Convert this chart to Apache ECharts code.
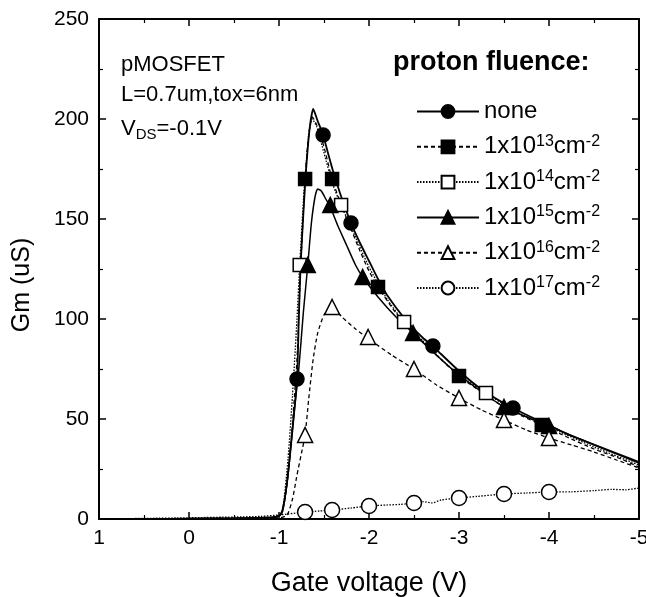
<!DOCTYPE html>
<html>
<head>
<meta charset="utf-8">
<script src="https://cdn.jsdelivr.net/npm/echarts@6/dist/echarts.min.js"></script>
<style>html,body{margin:0;padding:0;background:#fff;}#c{width:646px;height:597px;}</style>
</head>
<body>
<div id="c"></div>
<script>
// ---- data ----
var seriesNames = ['none', '1x10^13cm^-2', '1x10^14cm^-2', '1x10^15cm^-2', '1x10^16cm^-2', '1x10^17cm^-2'];
var xTicks = [1, 0, -1, -2, -3, -4, -5];
var yTicks = [0, 50, 100, 150, 200, 250];

var curveNone = [[1,0],[0.5,0],[0,0.2],[-0.5,0.4],[-0.9,0.8],[-1.0,1.5],[-1.03,3],[-1.08,15],[-1.14,40],[-1.2,70],[-1.22,100],[-1.24,127],[-1.27,152],[-1.3,174],[-1.34,195],[-1.38,205],[-1.43,199],[-1.49,192],[-1.55,182],[-1.6,174],[-1.7,160],[-1.8,148],[-1.9,138],[-2.0,129],[-2.1,120],[-2.2,112],[-2.4,100],[-2.6,90.5],[-2.71,86.5],[-2.8,82.5],[-3.0,74],[-3.2,66.5],[-3.4,60.5],[-3.6,55.5],[-3.8,51],[-4.0,47],[-4.2,42.5],[-4.4,39],[-4.6,35.5],[-4.8,32],[-5.0,28.5]];
var curve13 = [[1,0],[0,0.2],[-0.9,0.6],[-1.0,1.5],[-1.05,6],[-1.1,22],[-1.15,48],[-1.2,80],[-1.24,125],[-1.29,170],[-1.33,192],[-1.37,201],[-1.42,197],[-1.5,186],[-1.59,170],[-1.7,156],[-1.8,145],[-1.9,134],[-2.0,124],[-2.1,116],[-2.3,103],[-2.5,93],[-2.7,84],[-3.0,71.5],[-3.2,65],[-3.5,56],[-3.7,51.5],[-3.92,47],[-4.2,41],[-4.5,35],[-4.8,30],[-5.0,26]];
var curve14 = [[1,0],[0,0.2],[-0.9,0.6],[-1.0,1.5],[-1.04,4],[-1.1,30],[-1.15,62],[-1.2,100],[-1.23,127],[-1.28,165],[-1.33,192],[-1.37,200],[-1.42,196],[-1.5,183],[-1.6,167],[-1.69,157],[-1.8,146],[-2.0,126],[-2.2,110],[-2.39,98.5],[-2.6,89],[-2.8,80],[-3.0,72],[-3.3,63],[-3.6,54.5],[-4.0,46],[-4.5,36],[-5.0,27]];
var curve15 = [[1,0],[0,0.2],[-0.9,0.5],[-1.0,1.5],[-1.04,4],[-1.1,22],[-1.16,50],[-1.22,75],[-1.27,103],[-1.32,127],[-1.36,148],[-1.4,161],[-1.43,165],[-1.47,164],[-1.52,160],[-1.57,156],[-1.65,147],[-1.75,137],[-1.85,127],[-1.93,121],[-2.1,111],[-2.3,101],[-2.49,93],[-2.7,84],[-3.0,72],[-3.5,56],[-4.0,46.5],[-4.5,37],[-5.0,28]];
var curve16 = [[1,0],[0,0.2],[-1.0,0.5],[-1.09,2],[-1.15,10],[-1.2,22],[-1.25,33],[-1.29,42],[-1.33,60],[-1.38,80],[-1.43,93],[-1.5,102],[-1.59,106],[-1.7,101],[-1.85,95],[-2.0,90],[-2.25,82],[-2.5,75],[-2.75,67],[-3.0,60.5],[-3.25,54.5],[-3.5,49.5],[-3.75,44.5],[-4.0,40.5],[-4.25,37],[-4.5,33.5],[-4.75,29.5],[-5.0,25.5]];
var curve17 = [[1,0],[0.5,0.3],[0,0.6],[-0.5,1],[-0.8,1.3],[-1.0,2],[-1.1,2.5],[-1.29,3.5],[-1.45,4],[-1.59,4.5],[-1.8,5.5],[-2.0,6.5],[-2.2,7],[-2.35,7.3],[-2.5,8],[-2.6,8.7],[-2.7,8],[-2.8,9.5],[-3.0,10.5],[-3.2,11.3],[-3.5,12.5],[-3.75,13],[-4.0,13.5],[-4.25,13.6],[-4.5,14.2],[-4.7,14.8],[-4.85,14.6],[-5.0,15.5]];

var marksNone = [[-1.2,70],[-1.49,192],[-1.8,148],[-2.71,86.5],[-3.6,55.5]];
var marks13 = [[-1.29,170],[-1.59,170],[-2.1,116],[-3.0,71.5],[-3.92,47]];
var marks14 = [[-1.23,127],[-1.69,157],[-2.39,98.5],[-3.3,63]];
var marks15 = [[-1.32,127],[-1.57,157],[-1.93,121],[-2.49,93],[-3.5,56],[-4.0,46.5]];
var marks16 = [[-1.29,42],[-1.59,106],[-1.99,91],[-2.5,75],[-3.0,60.5],[-3.5,49.5],[-4.0,40.5]];
var marks17 = [[-1.29,3.5],[-1.59,4.5],[-2.0,6.5],[-2.5,8],[-3.0,10.5],[-3.5,12.5],[-4.0,13.5]];

// ---- chart ----
var FONT = '"Liberation Sans", Arial, Helvetica, sans-serif';
var curves = [curveNone, curve13, curve14, curve15, curve16, curve17];
var marks = [marksNone, marks13, marks14, marks15, marks16, marks17];
var styles = [
  {symbol:'circle', fill:'#000', size:14, line:'solid', width:1.8},
  {symbol:'rect', fill:'#000', size:13, line:[4,3], width:1.3},
  {symbol:'rect', fill:'#fff', size:13, line:[1.5,1.5], width:1.3},
  {symbol:'triangle', fill:'#000', size:15, line:'solid', width:1.5},
  {symbol:'triangle', fill:'#fff', size:15, line:[4,3], width:1.3},
  {symbol:'circle', fill:'#fff', size:15, line:[1.5,1.5], width:1.3}
];

var series = [];
seriesNames.forEach(function (name, i) {
  var st = styles[i];
  series.push({
    name: name, type: 'line', data: curves[i], showSymbol: false,
    symbol: st.symbol, symbolSize: st.size, smooth: 0.2,
    lineStyle: {color: '#000', width: st.width, type: st.line},
    itemStyle: {color: st.fill, borderColor: '#000', borderWidth: 1.5},
    emphasis: {disabled: true}, silent: true, z: 2
  });
});
seriesNames.forEach(function (name, i) {
  var st = styles[i];
  series.push({
    name: name, type: 'scatter', data: marks[i],
    symbol: st.symbol, symbolSize: st.size,
    itemStyle: {color: st.fill, borderColor: '#000', borderWidth: 1.5, opacity: 1},
    emphasis: {disabled: true}, silent: true, z: 3
  });
});

function axisCommon() {
  return {
    axisLine: {onZero: false, lineStyle: {color: '#000', width: 2}},
    axisTick: {inside: true, length: 7, lineStyle: {color: '#000', width: 1.5}},
    minorTick: {show: true, splitNumber: 2, length: 4, lineStyle: {color: '#000', width: 1.2}},
    splitLine: {show: false}
  };
}

var xBottom = Object.assign(axisCommon(), {
  type: 'value', min: xTicks[xTicks.length - 1], max: xTicks[0], interval: 1, inverse: true, position: 'bottom',
  axisLabel: {fontSize: 21, color: '#000', margin: 9, fontFamily: FONT, showMinLabel: true, showMaxLabel: true},
  name: 'Gate voltage (V)', nameLocation: 'middle', nameGap: 51,
  nameTextStyle: {fontSize: 27, color: '#000', fontFamily: FONT}
});
var xTop = Object.assign(axisCommon(), {
  type: 'value', min: xTicks[xTicks.length - 1], max: xTicks[0], interval: 1, inverse: true, position: 'top',
  axisLabel: {show: false}
});
var yLeft = Object.assign(axisCommon(), {
  type: 'value', min: yTicks[0], max: yTicks[yTicks.length - 1], interval: 50, position: 'left',
  axisLabel: {fontSize: 21, color: '#000', margin: 10, fontFamily: FONT, showMinLabel: true, showMaxLabel: true},
  name: 'Gm (uS)', nameLocation: 'middle', nameGap: 64,
  nameTextStyle: {fontSize: 25, color: '#000', fontFamily: FONT, padding: [0, 32, 0, 0]}
});
var yRight = Object.assign(axisCommon(), {
  type: 'value', min: yTicks[0], max: yTicks[yTicks.length - 1], interval: 50, position: 'right',
  axisLabel: {show: false}
});

function legendFmt(name) {
  return name.replace(/\^(-?\d+)/g, '{s|$1}');
}

var option = {
  animation: false,
  backgroundColor: '#fff',
  grid: {left: 99, right: 7, top: 19, bottom: 78, containLabel: false, outerBoundsMode: 'none'},
  xAxis: [xBottom, xTop],
  yAxis: [yLeft, yRight],
  legend: {
    data: seriesNames, orient: 'vertical', left: 416, top: 98, padding: 0,
    itemWidth: 62, itemHeight: 16, itemGap: 8.3, selectedMode: false,
    formatter: legendFmt,
    textStyle: {fontSize: 24, color: '#000', fontFamily: FONT, lineHeight: 27,
      rich: {s: {fontSize: 16, lineHeight: 14, verticalAlign: 'top', color: '#000', fontFamily: FONT}}}
  },
  graphic: [
    {type: 'text', x: 393, y: 63, silent: true,
      style: {text: 'proton fluence:', font: 'bold 27px ' + FONT, fill: '#000', textVerticalAlign: 'middle'}},
    {type: 'text', x: 121, y: 65, silent: true,
      style: {text: 'pMOSFET', font: '22px ' + FONT, fill: '#000', textVerticalAlign: 'middle'}},
    {type: 'text', x: 121, y: 95, silent: true,
      style: {text: 'L=0.7um,tox=6nm', font: '22px ' + FONT, fill: '#000', textVerticalAlign: 'middle'}},
    {type: 'text', x: 121, y: 129, silent: true,
      style: {text: 'V{sub|DS}=-0.1V', font: '22px ' + FONT, fill: '#000', textVerticalAlign: 'middle',
        lineHeight: 26,
        rich: {sub: {fontSize: 15, lineHeight: 12, verticalAlign: 'bottom', fill: '#000', fontFamily: FONT}}}}
  ],
  series: series
};

var chart = echarts.init(document.getElementById('c'), null, {renderer: 'canvas'});
chart.setOption(option);
</script>
</body>
</html>
